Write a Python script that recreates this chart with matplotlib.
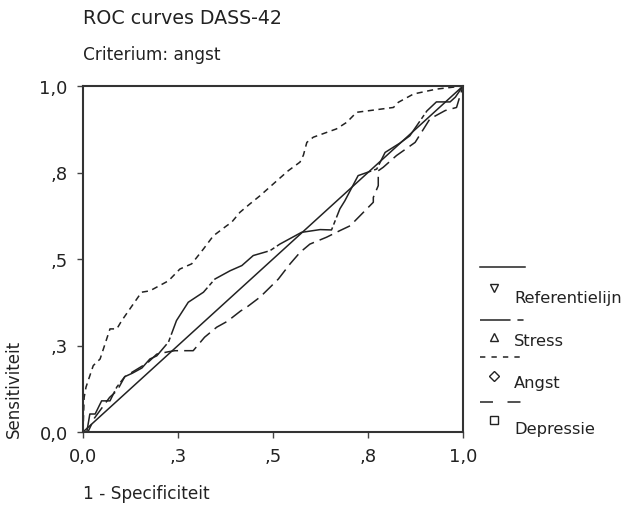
import matplotlib
matplotlib.use("Agg")
import matplotlib.pyplot as plt
from matplotlib.lines import Line2D

plt.rcParams['font.family'] = ['DejaVu Sans']

# ROC data (1 - specificity, sensitivity)
ref_x = [0.0, 1.0]
ref_y = [0.0, 1.0]

stress_x = [0.0, 0.01, 0.018, 0.032, 0.049, 0.071, 0.089, 0.11, 0.13, 0.155, 0.176, 0.194, 0.225,
            0.246, 0.277, 0.317, 0.347, 0.387, 0.418, 0.448, 0.492, 0.518, 0.575, 0.624, 0.654,
            0.676, 0.689, 0.724, 0.773, 0.795, 0.834, 0.86, 0.905, 0.93, 0.966, 0.98, 1.0]
stress_y = [0.0, 0.0, 0.052, 0.052, 0.09, 0.09, 0.13, 0.16, 0.17, 0.185, 0.211, 0.22, 0.26,
            0.322, 0.375, 0.404, 0.442, 0.466, 0.481, 0.51, 0.524, 0.543, 0.577, 0.585, 0.584,
            0.645, 0.668, 0.741, 0.76, 0.808, 0.835, 0.856, 0.928, 0.954, 0.954, 0.968, 1.0]

angst_x = [0.0, 0.003, 0.008, 0.027, 0.045, 0.071, 0.089, 0.102, 0.154, 0.176, 0.225, 0.255,
           0.286, 0.317, 0.343, 0.378, 0.391, 0.413, 0.439, 0.466, 0.51, 0.54, 0.571, 0.58,
           0.589, 0.606, 0.667, 0.694, 0.72, 0.755, 0.817, 0.83, 0.87, 0.93, 1.0]
angst_y = [0.0, 0.10, 0.13, 0.192, 0.211, 0.298, 0.298, 0.322, 0.404, 0.408, 0.437, 0.471,
           0.486, 0.529, 0.567, 0.596, 0.606, 0.635, 0.659, 0.683, 0.726, 0.755, 0.78, 0.80,
           0.837, 0.852, 0.876, 0.895, 0.924, 0.929, 0.938, 0.953, 0.977, 0.991, 1.0]

depr_x = [0.0, 0.013, 0.03, 0.05, 0.07, 0.09, 0.11, 0.14, 0.17, 0.194, 0.225, 0.242, 0.29,
          0.32, 0.352, 0.38, 0.415, 0.43, 0.466, 0.492, 0.514, 0.545, 0.571, 0.597, 0.641,
          0.676, 0.703, 0.729, 0.764, 0.764, 0.777, 0.777, 0.79, 0.825, 0.874, 0.913, 0.953,
          0.983, 1.0]
depr_y = [0.0, 0.0, 0.04, 0.07, 0.10, 0.12, 0.16, 0.18, 0.20, 0.225, 0.232, 0.235, 0.235,
          0.274, 0.303, 0.32, 0.35, 0.36, 0.39, 0.418, 0.442, 0.486, 0.519, 0.543, 0.563,
          0.582, 0.596, 0.625, 0.664, 0.678, 0.712, 0.755, 0.765, 0.799, 0.837, 0.905, 0.929,
          0.938, 1.0]

tick_pos = [0.0, 0.25, 0.5, 0.75, 1.0]
tick_labels = ["0,0", ",3", ",5", ",8", "1,0"]

legend_names = ["Referentielijn", "Stress", "Angst", "Depressie"]

W, H = 628, 506
ink = "#222222"

fig = plt.figure(figsize=(W / 100, H / 100), dpi=100)
ax = fig.add_axes([83 / W, 1 - 433 / H, 380 / W, 346 / H])

ax.plot(ref_x, ref_y, color=ink, lw=1.1, linestyle="-")
ax.plot(stress_x, stress_y, color=ink, lw=1.1, linestyle=(0, (40, 2, 3, 2)))
ax.plot(angst_x, angst_y, color=ink, lw=1.1, linestyle=(0, (4, 3)))
ax.plot(depr_x, depr_y, color=ink, lw=1.1, linestyle=(0, (9, 4)))

ax.set_xlim(0, 1)
ax.set_ylim(0, 1)
ax.set_xticks(tick_pos)
ax.set_xticklabels(tick_labels)
ax.set_yticks(tick_pos)
ax.set_yticklabels(tick_labels)
ax.tick_params(direction="out", length=4, width=1, color="#444444",
               labelsize=13, labelcolor=ink, pad=7)
for s in ax.spines.values():
    s.set_linewidth(1.5)
    s.set_color("#333333")

# titles and axis labels sit in figure pixel positions like the original
def px(x, y):
    return x / W, 1 - y / H

fig.text(*px(83, 18), "ROC curves DASS-42", fontsize=13.7, color=ink, va="center", ha="left")
fig.text(*px(83, 55), "Criterium: angst", fontsize=12.2, color=ink, va="center", ha="left")
fig.text(*px(83, 494), "1 - Specificiteit", fontsize=12.2, color=ink, va="center", ha="left")
fig.text(*px(14, 438), "Sensitiviteit", fontsize=12, color=ink, rotation=90,
         va="bottom", ha="center")

# legend: line sample on its own row, marker + name below it
leg_styles = ["-", (0, (20, 4.5, 4, 10)), (0, (3.5, 4)), (0, (8.5, 9.5))]
leg_markers = ["v", "^", "D", "s"]
leg_msize = [6, 6, 5, 6]
line_rows = [268, 321, 358, 403]
name_rows = [298, 341, 384, 430]
marker_rows = [289, 338, 377, 421]
for i, name in enumerate(legend_names):
    x0, y0 = px(480, line_rows[i])
    x1, _ = px(525, line_rows[i])
    fig.add_artist(Line2D([x0, x1], [y0, y0], transform=fig.transFigure,
                          color=ink, lw=1.1, linestyle=leg_styles[i]))
    mx, my = px(494, marker_rows[i])
    fig.add_artist(Line2D([mx], [my], transform=fig.transFigure, marker=leg_markers[i],
                          markersize=leg_msize[i], markerfacecolor="white",
                          markeredgecolor=ink, markeredgewidth=1, linestyle="none"))
    tx, ty = px(514, name_rows[i])
    fig.text(tx, ty, name, fontsize=11.7, color=ink, va="center", ha="left")

fig.savefig("out.png", dpi=100)
